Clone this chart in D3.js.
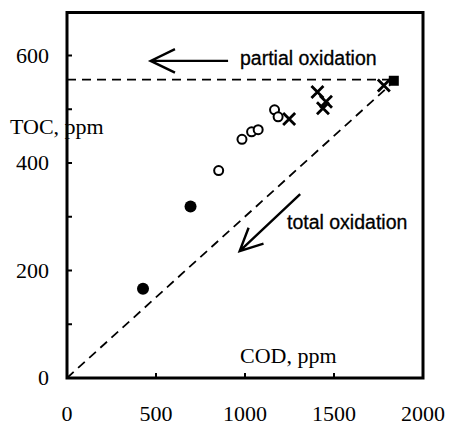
<!DOCTYPE html>
<html>
<head>
<meta charset="utf-8">
<script src="https://cdn.jsdelivr.net/npm/d3@7"></script>
<style>
  body { margin: 0; background: #fff; }
  svg { display: block; }
  .serif { font-family: "Liberation Serif", "Times New Roman", serif; font-size: 22px; fill: #000; }
  .sans { font-family: "Liberation Sans", Arial, sans-serif; font-size: 19.5px; fill: #000; stroke: #000; stroke-width: 0.3; }
</style>
</head>
<body>
<svg id="chart" width="449" height="426"></svg>
<script>
// data (COD, TOC in ppm)
var filledCircles = [[427, 166], [694, 319]];
var openCircles = [[852, 386], [983, 444], [1037, 458], [1074, 462], [1166, 499], [1186, 486]];
var crosses = [[1248, 482], [1407, 532], [1455, 514], [1438, 502], [1780, 544]];
var squares = [[1836, 553]];

var xTicks = [0, 500, 1000, 1500, 2000];
var yTicks = [0, 200, 400, 600];
var yMinorTicks = [100, 200, 300, 400, 500, 600];
var xMinorTicks = [500, 1000, 1500];

// reference lines and arrows, in data units
var partialLevel = 555;
var totalLine = [[0, 0], [1815, 545]];
var partialArrow = [[905, 590], [470, 590]];
var totalArrow = [[1310, 342], [970, 236]];

var svg = d3.select("#chart");

var x = d3.scaleLinear().domain([0, 2000]).range([67, 423]);
var y = d3.scaleLinear().domain([0, 680]).range([378, 12.5]);

// frame
svg.append("rect")
  .attr("x", x(0)).attr("y", y(680))
  .attr("width", x(2000) - x(0)).attr("height", y(0) - y(680))
  .attr("fill", "none").attr("stroke", "#000").attr("stroke-width", 3);

// inner ticks
svg.selectAll(".ytick").data(yMinorTicks).enter().append("line")
  .attr("x1", x(0)).attr("x2", x(0) + 5)
  .attr("y1", function(d){ return y(d); }).attr("y2", function(d){ return y(d); })
  .attr("stroke", "#000").attr("stroke-width", 2);

svg.selectAll(".xtick").data(xMinorTicks).enter().append("line")
  .attr("x1", function(d){ return x(d); }).attr("x2", function(d){ return x(d); })
  .attr("y1", y(0)).attr("y2", y(0) - 5)
  .attr("stroke", "#000").attr("stroke-width", 2);

// tick labels
svg.selectAll(".xlab").data(xTicks).enter().append("text")
  .attr("class", "serif")
  .attr("x", function(d){ return x(d); }).attr("y", 421)
  .attr("text-anchor", "middle")
  .text(function(d){ return d; });

svg.selectAll(".ylab").data(yTicks).enter().append("text")
  .attr("class", "serif")
  .attr("x", 49).attr("y", function(d){ return y(d) + 7; })
  .attr("text-anchor", "end")
  .text(function(d){ return d; });

// axis titles
svg.append("text").attr("class", "serif")
  .attr("x", 10).attr("y", 134).text("TOC, ppm");
svg.append("text").attr("class", "serif")
  .attr("x", 240).attr("y", 363).text("COD, ppm");

// dashed reference lines
svg.append("line")
  .attr("x1", x(0)).attr("x2", x(squares[0][0]))
  .attr("y1", y(partialLevel)).attr("y2", y(partialLevel))
  .attr("stroke", "#000").attr("stroke-width", 1.8)
  .attr("stroke-dasharray", "9,6");

svg.append("line")
  .attr("x1", x(totalLine[0][0])).attr("y1", y(totalLine[0][1]))
  .attr("x2", x(totalLine[1][0])).attr("y2", y(totalLine[1][1]))
  .attr("stroke", "#000").attr("stroke-width", 1.8)
  .attr("stroke-dasharray", "9,6");

// arrows
function arrow(pts, headLen){
  var x1 = x(pts[0][0]), y1 = y(pts[0][1]);
  var x2 = x(pts[1][0]), y2 = y(pts[1][1]);
  var a = Math.atan2(y2 - y1, x2 - x1);
  var spread = 0.45;
  var path = d3.path();
  path.moveTo(x1, y1);
  path.lineTo(x2, y2);
  path.moveTo(x2 - headLen * Math.cos(a - spread), y2 - headLen * Math.sin(a - spread));
  path.lineTo(x2, y2);
  path.lineTo(x2 - headLen * Math.cos(a + spread), y2 - headLen * Math.sin(a + spread));
  svg.append("path").attr("d", path.toString())
    .attr("fill", "none").attr("stroke", "#000").attr("stroke-width", 2.4);
}
arrow(partialArrow, 27);
arrow(totalArrow, 25);

svg.append("text").attr("class", "sans")
  .attr("x", 240).attr("y", 65).text("partial oxidation");
svg.append("text").attr("class", "sans")
  .attr("x", 287).attr("y", 229).text("total oxidation");

// points
svg.selectAll(".filled").data(filledCircles).enter().append("circle")
  .attr("cx", function(d){ return x(d[0]); })
  .attr("cy", function(d){ return y(d[1]); })
  .attr("r", 6).attr("fill", "#000");

svg.selectAll(".open").data(openCircles).enter().append("circle")
  .attr("cx", function(d){ return x(d[0]); })
  .attr("cy", function(d){ return y(d[1]); })
  .attr("r", 4.5).attr("fill", "#fff").attr("stroke", "#000").attr("stroke-width", 2);

svg.selectAll(".cross").data(crosses).enter().append("path")
  .attr("transform", function(d){ return "translate(" + x(d[0]) + "," + y(d[1]) + ")"; })
  .attr("d", "M-6,-6L6,6M-6,6L6,-6")
  .attr("stroke", "#000").attr("stroke-width", 2.8);

svg.selectAll(".square").data(squares).enter().append("rect")
  .attr("x", function(d){ return x(d[0]) - 5; })
  .attr("y", function(d){ return y(d[1]) - 5; })
  .attr("width", 10).attr("height", 10).attr("fill", "#000");
</script>
</body>
</html>
